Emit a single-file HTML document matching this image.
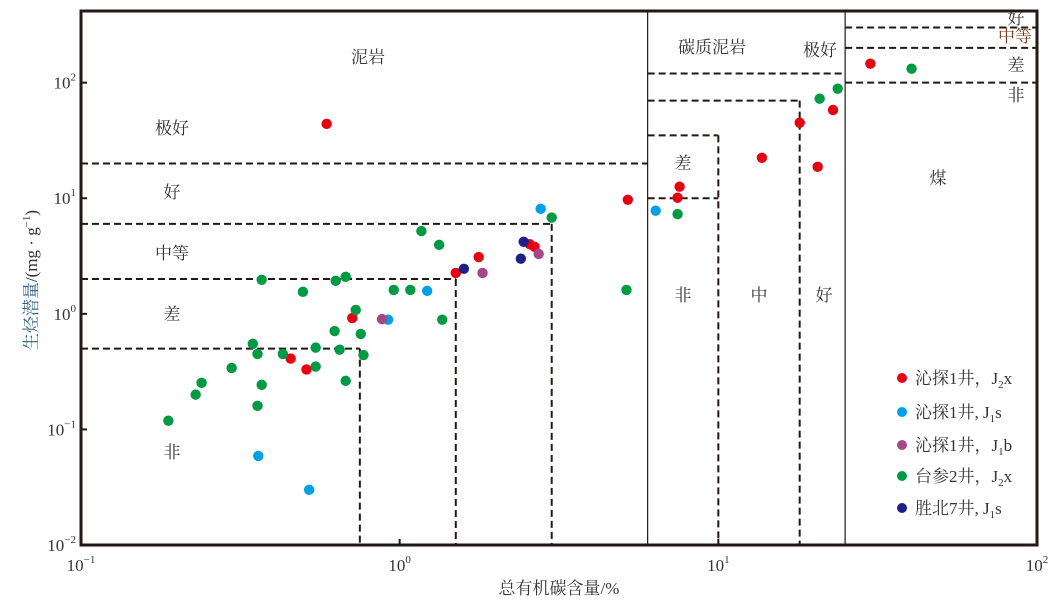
<!DOCTYPE html>
<html><head><meta charset="utf-8">
<style>
html,body{margin:0;padding:0;background:#fff;}
svg{display:block;font-family:"Liberation Serif","Noto Serif CJK SC",serif;}
</style></head>
<body>
<svg id="chart" width="1064" height="601" viewBox="0 0 1064 601" xmlns="http://www.w3.org/2000/svg">
<g id="regions"></g>
<g id="labels" font-size="17" fill="#333" text-anchor="middle"></g>
<g id="points"></g>
<g id="axes"></g>
<g id="legend" font-size="17" fill="#333"></g>
</svg>
<script>
const seriesNames = ["沁探1井，J2x","沁探1井，J1s","沁探1井，J1b","台参2井，J2x","胜北7井，J1s"];
const seriesColors = ["#e60012","#00a0e9","#a8468a","#009944","#1d2088"];
const redX = [0.59,0.455,0.51,0.71,1.5,1.77,2.56,2.65,5.2,7.56,7.45,13.7,18,20.5,22.9,30];
const redY = [44,0.41,0.33,0.92,2.26,3.1,4.0,3.8,9.7,12.6,10.1,22.4,45,18.7,58,146];
const blueX = [2.77,6.36,1.22,0.92,0.36,0.52];
const blueY = [8.1,7.8,1.58,0.89,0.059,0.030];
const purpleX = [0.88,1.82,2.73];
const purpleY = [0.90,2.26,3.3];
const greenX = [0.188,0.229,0.239,0.297,0.358,0.369,0.346,0.358,0.369,0.43,0.497,0.545,0.545,0.625,0.63,0.648,0.677,0.677,0.728,0.755,0.77,0.958,1.08,1.17,1.33,1.36,3.0,5.15,7.45,20.8,23.7,40.4];
const greenY = [0.119,0.20,0.253,0.34,0.16,0.243,0.55,0.45,1.97,0.45,1.55,0.51,0.35,0.71,1.93,0.49,2.09,0.263,1.08,0.67,0.44,1.61,1.61,5.2,3.95,0.89,6.8,1.61,7.3,72.7,88.7,132];
const navyX = [1.59,2.4,2.45];
const navyY = [2.45,3.0,4.2];
const xTicks = [0.1,1,10,100];
const yTicks = [0.01,0.1,1,10,100];

const L=81,R=1037,T=11,B=545;
const X0=-1,X1=2,Y0=-2,Y1=2.62;
function sx(v){return L+(Math.log10(v)-X0)/(X1-X0)*(R-L);}
function sy(v){return B-(Math.log10(v)-Y0)/(Y1-Y0)*(B-T);}
const NS="http://www.w3.org/2000/svg";
function mk(tag,parent,attrs){const e=document.createElementNS(NS,tag);for(const k in attrs)e.setAttribute(k,attrs[k]);parent.appendChild(e);return e;}

const reg=document.getElementById('regions');
function dline(x1,y1,x2,y2,name,solid){
  const e=mk('line',reg,{x1:x1,y1:y1,x2:x2,y2:y2,stroke:'#231815','stroke-width':solid?1.2:2,'stroke-dasharray':solid?'none':'7,4'});
  
  
}
// mudstone boundaries
dline(L,sy(0.5),sx(0.75),sy(0.5),'mudstone-poor-line');
dline(sx(0.75),sy(0.5),sx(0.75),B,'mudstone-poor-vline');
dline(L,sy(2),sx(1.5),sy(2),'mudstone-fair-line');
dline(sx(1.5),sy(2),sx(1.5),B,'mudstone-fair-vline');
dline(L,sy(6),sx(3),sy(6),'mudstone-good-line');
dline(sx(3),sy(6),sx(3),B,'mudstone-good-vline');
dline(L,sy(20),sx(6),sy(20),'mudstone-excellent-line');
dline(sx(6),T,sx(6),B,'mudstone-boundary',true);
// carbonaceous mudstone
dline(sx(6),sy(10),sx(10),sy(10),'carb-poor-line');
dline(sx(6),sy(35),sx(10),sy(35),'carb-medium-line');
dline(sx(10),sy(35),sx(10),B,'carb-medium-vline');
dline(sx(6),sy(70),sx(18),sy(70),'carb-good-line');
dline(sx(18),sy(70),sx(18),B,'carb-good-vline');
dline(sx(6),sy(120),sx(25),sy(120),'carb-excellent-line');
dline(sx(25),T,sx(25),B,'coal-boundary',true);
// coal
dline(sx(25),sy(100),R,sy(100),'coal-poor-line');
dline(sx(25),sy(200),R,sy(200),'coal-medium-line');
dline(sx(25),sy(300),R,sy(300),'coal-good-line');

const lab=document.getElementById('labels');
function txt(x,y,s,name,fill){const e=mk('text',lab,{x:x,y:y});if(fill)e.setAttribute('fill',fill);e.textContent=s;
  
  }
txt(368,63,'泥岩','label-mudstone');
txt(172,134,'极好','label-excellent');
txt(172,198,'好','label-good');
txt(172,259,'中等','label-medium');
txt(172,320,'差','label-poor');
txt(172,458,'非','label-non');
txt(712,53,'碳质泥岩','label-carbonaceous-mudstone');
txt(820,56,'极好','label-carb-excellent');
txt(683,169,'差','label-carb-poor');
txt(683,301,'非','label-carb-non');
txt(759,301,'中','label-carb-medium');
txt(824,301,'好','label-carb-good');
txt(938,184,'煤','label-coal');
txt(1016,24,'好','label-coal-good');
txt(1015,42,'中等','label-coal-medium','#7a3a1a');
txt(1016,71,'差','label-coal-poor');
txt(1016,101,'非','label-coal-non');

const pts=document.getElementById('points');
const allX=[redX,blueX,purpleX,greenX,navyX], allY=[redY,blueY,purpleY,greenY,navyY];
for(let s=0;s<5;s++){for(let i=0;i<allX[s].length;i++){
  const c=mk('circle',pts,{cx:sx(allX[s][i]),cy:sy(allY[s][i]),r:5.2,fill:seriesColors[s]});
  
  
}}

const ax=document.getElementById('axes');
const frame=mk('rect',ax,{x:L,y:T,width:R-L,height:B-T,fill:'none',stroke:'#231815','stroke-width':3});


function pow(parent,x,y,exp,anchor,name){
  const t=mk('text',parent,{x:x,y:y,'font-size':17,fill:'#333','text-anchor':anchor});
  
  
  t.appendChild(document.createTextNode('10'));
  const sp=mk('tspan',t,{dy:-8,'font-size':11});sp.textContent=exp;
}
xTicks.forEach((v,i)=>{
  const x=sx(v);
  if(i>0&&i<xTicks.length-1){const tk=mk('line',ax,{x1:x,y1:B,x2:x,y2:B-6,stroke:'#231815','stroke-width':2});
  
  }
  pow(ax,x,571,String(Math.round(Math.log10(v))).replace('-','−'),'middle','x-tick-label');
});
yTicks.forEach((v,i)=>{
  const y=sy(v);
  if(i>0){const tk=mk('line',ax,{x1:L,y1:y,x2:L+6,y2:y,stroke:'#231815','stroke-width':2});
  
  }
  pow(ax,76,y+6,String(Math.round(Math.log10(v))).replace('-','−'),'end','y-tick-label');
});
const xt=mk('text',ax,{x:559,y:594,'font-size':17,fill:'#333','text-anchor':'middle'});
xt.textContent='总有机碳含量/%';


const yt=mk('text',ax,{x:0,y:0,'font-size':17,fill:'#333','text-anchor':'middle',transform:'translate(37,280) rotate(-90)'});
const yt1=mk('tspan',yt,{fill:'#2e5f8a'});yt1.textContent='生烃潜量';
const yt2=mk('tspan',yt,{});yt2.textContent='/(mg · g';
const yt3=mk('tspan',yt,{dy:-7,'font-size':11});yt3.textContent='−1';
const yt4=mk('tspan',yt,{dy:7});yt4.textContent=')';



const lg=document.getElementById('legend');
const legY=[378,412,445,476,508];
const legMain=['沁探1井，J','沁探1井, J','沁探1井，J','台参2井，J','胜北7井, J'];
const legSub=['2','1','1','2','1'];
const legEnd=['x','s','b','x','s'];
for(let i=0;i<5;i++){
  const g=mk('g',lg,{});
  
  
  mk('circle',g,{cx:902,cy:legY[i],r:5,fill:seriesColors[i]});
  const t=mk('text',g,{x:915,y:legY[i]+6});
  t.appendChild(document.createTextNode(legMain[i]));
  const s=mk('tspan',t,{dy:4,'font-size':11});s.textContent=legSub[i];
  const e=mk('tspan',t,{dy:-4});e.textContent=legEnd[i];
}
</script>
</body></html>
